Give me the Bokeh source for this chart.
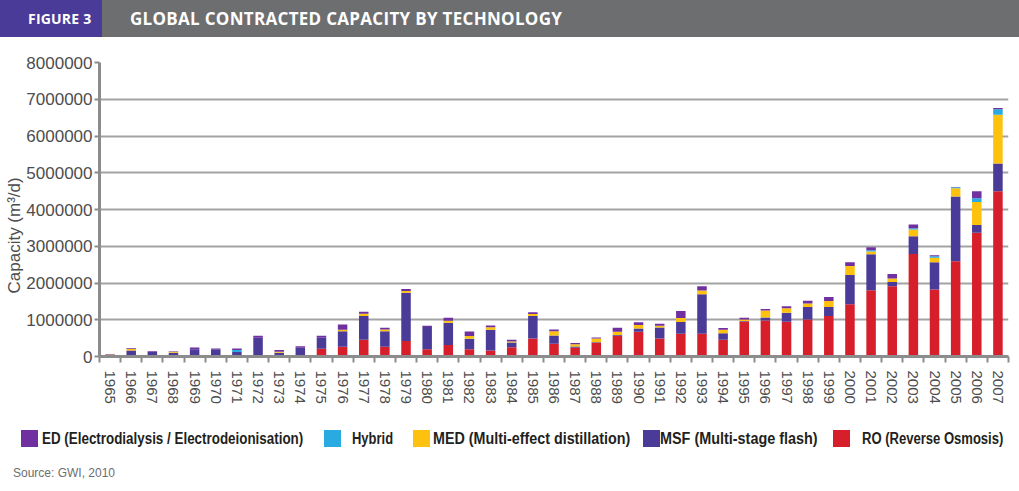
from bokeh.plotting import figure
from bokeh.models import (ColumnDataSource, Range1d, FixedTicker, PrintfTickFormatter,
                          Div, Title)
from bokeh.layouts import column
from bokeh.embed import file_html
from bokeh.resources import INLINE

years = list(range(1965, 2008))

# values in m3/d
RO = [0, 0, 0, 0, 0, 5000, 0, 0, 0, 0,
      210000, 265000, 455000, 265000, 420000, 200000, 310000, 200000, 165000, 255000,
      490000, 345000, 235000, 365000, 565000, 675000, 490000, 620000, 620000, 455000,
      955000, 980000, 945000, 1010000, 1100000, 1420000, 1800000, 1910000, 2790000, 1820000,
      2590000, 3370000, 4500000]
MSF = [10000, 165000, 125000, 105000, 200000, 190000, 125000, 510000, 100000, 235000,
       300000, 420000, 645000, 425000, 1315000, 600000, 610000, 280000, 565000, 125000,
       610000, 225000, 35000, 25000, 20000, 90000, 300000, 320000, 1075000, 180000,
       10000, 80000, 245000, 335000, 245000, 800000, 980000, 120000, 480000, 745000,
       1765000, 210000, 755000]
MED = [45000, 40000, 0, 25000, 0, 0, 0, 0, 30000, 0,
       0, 45000, 65000, 45000, 45000, 0, 55000, 75000, 65000, 30000,
       55000, 120000, 65000, 100000, 90000, 90000, 45000, 110000, 100000, 90000,
       45000, 190000, 125000, 100000, 165000, 245000, 75000, 90000, 185000, 125000,
       225000, 625000, 1320000]
Hybrid = [0, 0, 0, 0, 0, 0, 55000, 0, 0, 0,
          0, 0, 0, 0, 0, 0, 0, 0, 0, 0,
          0, 0, 0, 0, 0, 0, 0, 0, 0, 0,
          0, 0, 0, 0, 0, 0, 35000, 0, 35000, 35000,
          25000, 100000, 155000]
ED = [15000, 20000, 20000, 15000, 45000, 25000, 40000, 55000, 50000, 45000,
      55000, 140000, 55000, 45000, 55000, 35000, 80000, 125000, 50000, 45000,
      50000, 45000, 30000, 25000, 110000, 75000, 55000, 190000, 115000, 50000,
      45000, 45000, 50000, 75000, 110000, 100000, 85000, 125000, 100000, 30000,
      10000, 190000, 35000]

stackers = ["RO", "MSF", "MED", "Hybrid", "ED"]
colors = ["#d71f2b", "#4b3b98", "#fec10d", "#29abe2", "#7030a0"]
legend_order = ["ED", "Hybrid", "MED", "MSF", "RO"]
labels = {
    "ED": "ED (Electrodialysis / Electrodeionisation)",
    "Hybrid": "Hybrid",
    "MED": "MED (Multi-effect distillation)",
    "MSF": "MSF (Multi-stage flash)",
    "RO": "RO (Reverse Osmosis)",
}
y_ticks = [0, 1000000, 2000000, 3000000, 4000000, 5000000, 6000000, 7000000, 8000000]

src = ColumnDataSource(dict(year=years, RO=RO, MSF=MSF, MED=MED, Hybrid=Hybrid, ED=ED))

FONT = "Liberation Sans"
GRAY_TXT = "#4d4d4d"
AXIS_GRAY = "#8c8c8c"
W = 1019

header = Div(
    text=(
        '<div style="position:relative;width:1019px;height:37px;background:#6d6e70;'
        'font-family:\'Open Sans\',sans-serif;font-weight:bold;color:#ffffff;">'
        '<div style="position:absolute;left:0;top:0;width:102px;height:37px;background:#4b3b98;"></div>'
        '<div style="position:absolute;left:28px;top:0;height:37px;font-size:14px;'
        'line-height:37px;letter-spacing:0.2px;">FIGURE 3</div>'
        '<div style="position:absolute;left:130px;top:0;height:37px;font-size:17px;'
        'line-height:37px;letter-spacing:0.3px;">GLOBAL CONTRACTED CAPACITY BY TECHNOLOGY</div>'
        '</div>'
    ),
    width=W, height=37, margin=(0, 0, 0, 0),
)

p = figure(width=W, height=378,
           x_range=Range1d(1964.5, 2007.5), y_range=Range1d(0, 8000000),
           output_backend="svg", toolbar_location=None,
           min_border_left=99, min_border_right=11, min_border_top=25, min_border_bottom=59)
p.outline_line_color = None
p.xgrid.grid_line_color = None
p.ygrid.grid_line_color = "#a3a3a3"
p.ygrid.grid_line_width = 2

renderers = p.vbar_stack(stackers, x="year", width=0.45, color=colors, source=src,
                         line_color=None)

# x axis
p.xaxis.ticker = FixedTicker(ticks=years, minor_ticks=[y - 0.5 for y in years] + [2007.5])
p.xaxis.formatter = PrintfTickFormatter(format="%d")
p.xaxis.major_label_orientation = "vertical"
p.xaxis.major_tick_line_color = None
p.xaxis.major_tick_out = 0
p.xaxis.major_tick_in = 0
p.xaxis.minor_tick_line_color = AXIS_GRAY
p.xaxis.minor_tick_line_width = 2
p.xaxis.minor_tick_out = 6
p.xaxis.minor_tick_in = 0
p.xaxis.axis_line_color = AXIS_GRAY
p.xaxis.axis_line_width = 3
p.xaxis.major_label_standoff = 8
p.xaxis.major_label_text_font = FONT
p.xaxis.major_label_text_font_size = "15px"
p.xaxis.major_label_text_color = GRAY_TXT

# y axis
p.yaxis.ticker = FixedTicker(ticks=y_ticks)
p.yaxis.formatter = PrintfTickFormatter(format="%d")
p.yaxis.axis_line_color = AXIS_GRAY
p.yaxis.axis_line_width = 3
p.yaxis.major_tick_line_color = AXIS_GRAY
p.yaxis.major_tick_line_width = 2
p.yaxis.major_tick_out = 5
p.yaxis.major_tick_in = 0
p.yaxis.minor_tick_line_color = None
p.yaxis.major_label_standoff = 2
p.yaxis.major_label_text_font = FONT
p.yaxis.major_label_text_font_size = "17px"
p.yaxis.major_label_text_color = GRAY_TXT

ytitle = Title(text="Capacity (m³/d)", align="left", offset=63,
               text_font=FONT, text_font_style="normal", text_font_size="17px",
               text_color=GRAY_TXT, standoff=0)
p.add_layout(ytitle, "left")

# legend strip + source note (HTML, positioned like the original)
color_of = dict(zip(stackers, colors))
# (square left, text left, horizontal squeeze of the bold label)
legend_pos = {"ED": (21, 42, 0.837), "Hybrid": (324, 352, 0.81), "MED": (413, 433, 0.895),
              "MSF": (643, 660, 0.90), "RO": (833, 862, 0.815)}
parts = ['<div style="position:relative;width:1019px;height:76px;font-family:\'Liberation Sans\',sans-serif;">']
for k in legend_order:
    sq, tx, sc = legend_pos[k]
    parts.append(f'<div style="position:absolute;left:{sq}px;top:15px;width:17px;height:17px;'
                 f'background:{color_of[k]};"></div>')
    parts.append(f'<div style="position:absolute;left:{tx}px;top:15px;height:17px;line-height:17px;'
                 f'font-size:16px;font-weight:bold;color:#231f20;white-space:nowrap;'
                 f'transform:scaleX({sc});transform-origin:0 50%;">{labels[k]}</div>')
parts.append('<div style="position:absolute;left:13px;top:51px;line-height:14px;font-size:12px;'
             'color:#6d6e70;white-space:nowrap;">Source: GWI, 2010</div>')
parts.append('</div>')
legend_div = Div(text="".join(parts), width=W, height=76, margin=(0, 0, 0, 0))

layout = column(header, p, legend_div, spacing=0)
open("out.html", "w").write(file_html(layout, INLINE))
